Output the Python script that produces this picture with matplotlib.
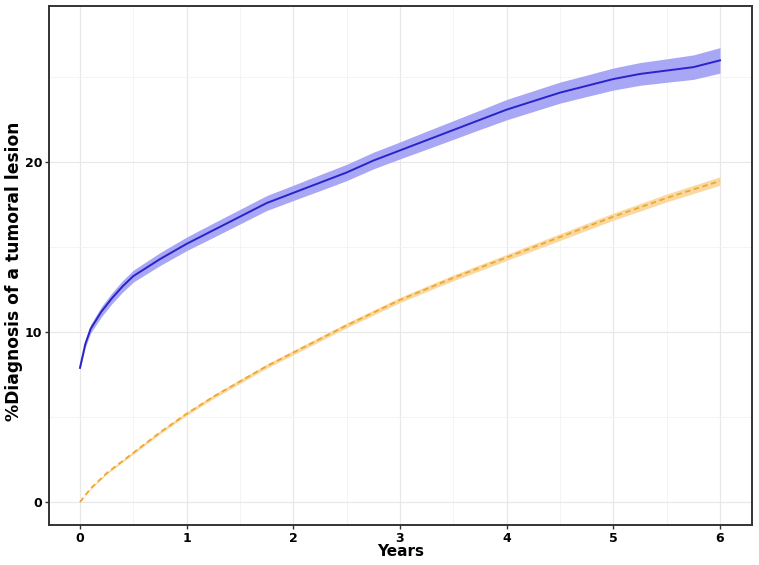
import matplotlib
matplotlib.use("Agg")
import matplotlib.pyplot as plt
import numpy as np
from matplotlib.ticker import MultipleLocator

years_blue = [0, 0.05, 0.1, 0.2, 0.3, 0.4, 0.5, 0.75, 1.0, 1.25, 1.5, 1.75, 2.0, 2.25, 2.5,
              2.75, 3.0, 3.25, 3.5, 3.75, 4.0, 4.25, 4.5, 4.75, 5.0, 5.25, 5.5, 5.75, 6.0]
pct_blue = [7.9, 9.3, 10.2, 11.2, 12.0, 12.7, 13.3, 14.3, 15.2, 16.0, 16.8, 17.6, 18.2, 18.8, 19.4,
            20.1, 20.7, 21.3, 21.9, 22.5, 23.1, 23.6, 24.1, 24.5, 24.9, 25.2, 25.4, 25.6, 26.0]
hw_blue = [0.1, 0.2, 0.25, 0.3, 0.32, 0.34, 0.35, 0.38, 0.4, 0.42, 0.43, 0.44, 0.45, 0.47, 0.48,
           0.49, 0.5, 0.53, 0.55, 0.57, 0.6, 0.61, 0.62, 0.63, 0.65, 0.67, 0.69, 0.72, 0.75]

years_orange = [0, 0.1, 0.25, 0.5, 0.75, 1.0, 1.25, 1.5, 1.75, 2.0, 2.5, 3.0, 3.5, 4.0, 4.5, 5.0, 5.5, 6.0]
pct_orange = [0.0, 0.8, 1.7, 2.9, 4.1, 5.2, 6.2, 7.1, 8.0, 8.8, 10.4, 11.9, 13.2, 14.4, 15.6, 16.8, 17.9, 18.9]
hw_orange = [0.0, 0.04, 0.06, 0.08, 0.09, 0.1, 0.11, 0.12, 0.12, 0.13, 0.14, 0.15, 0.17, 0.18, 0.2, 0.21, 0.23, 0.25]

x_ticks = [0, 1, 2, 3, 4, 5, 6]
y_ticks = [0, 10, 20]

fig = plt.figure(figsize=(7.59, 5.65), dpi=100)
ax = fig.add_axes([0.0646, 0.0708, 0.9262, 0.9186])

yb = np.array(pct_blue); hb = np.array(hw_blue)
yo = np.array(pct_orange); ho = np.array(hw_orange)

ax.fill_between(years_blue, yb - hb, yb + hb, color="#a8a7f5", lw=0, zorder=2)
ax.plot(years_blue, pct_blue, color="#2b22c9", lw=1.4, zorder=3)
ax.fill_between(years_orange, yo - ho, yo + ho, color="#f9d9a0", lw=0, zorder=2)
ax.plot(years_orange, pct_orange, color="#f2a630", lw=1.3, ls=(0, (3, 2)), zorder=3)

ax.set_xlim(-0.29, 6.3)
ax.set_ylim(-1.35, 29.2)
ax.set_xticks(x_ticks)
ax.set_yticks(y_ticks)
ax.xaxis.set_minor_locator(MultipleLocator(0.5))
ax.yaxis.set_minor_locator(MultipleLocator(5))
ax.grid(which="major", color="#e8e8e8", lw=0.9, zorder=0)
ax.grid(which="minor", color="#f2f2f2", lw=0.6, zorder=0)
ax.set_axisbelow(True)
ax.tick_params(which="minor", length=0)
ax.tick_params(which="major", length=3, width=1, color="#333333", labelsize=9, pad=2)
for lab in ax.get_xticklabels() + ax.get_yticklabels():
    lab.set_fontweight("bold")
for s in ax.spines.values():
    s.set_color("#333333")
    s.set_linewidth(1.4)

ax.set_xlabel("Years", fontsize=11, fontweight="bold")
ax.set_ylabel("%Diagnosis of a tumoral lesion", fontsize=12.3, fontweight="bold")
ax.xaxis.set_label_coords(0.5, -0.037)
ax.yaxis.set_label_coords(-0.037, 0.488)

fig.savefig("out.png", dpi=100)
